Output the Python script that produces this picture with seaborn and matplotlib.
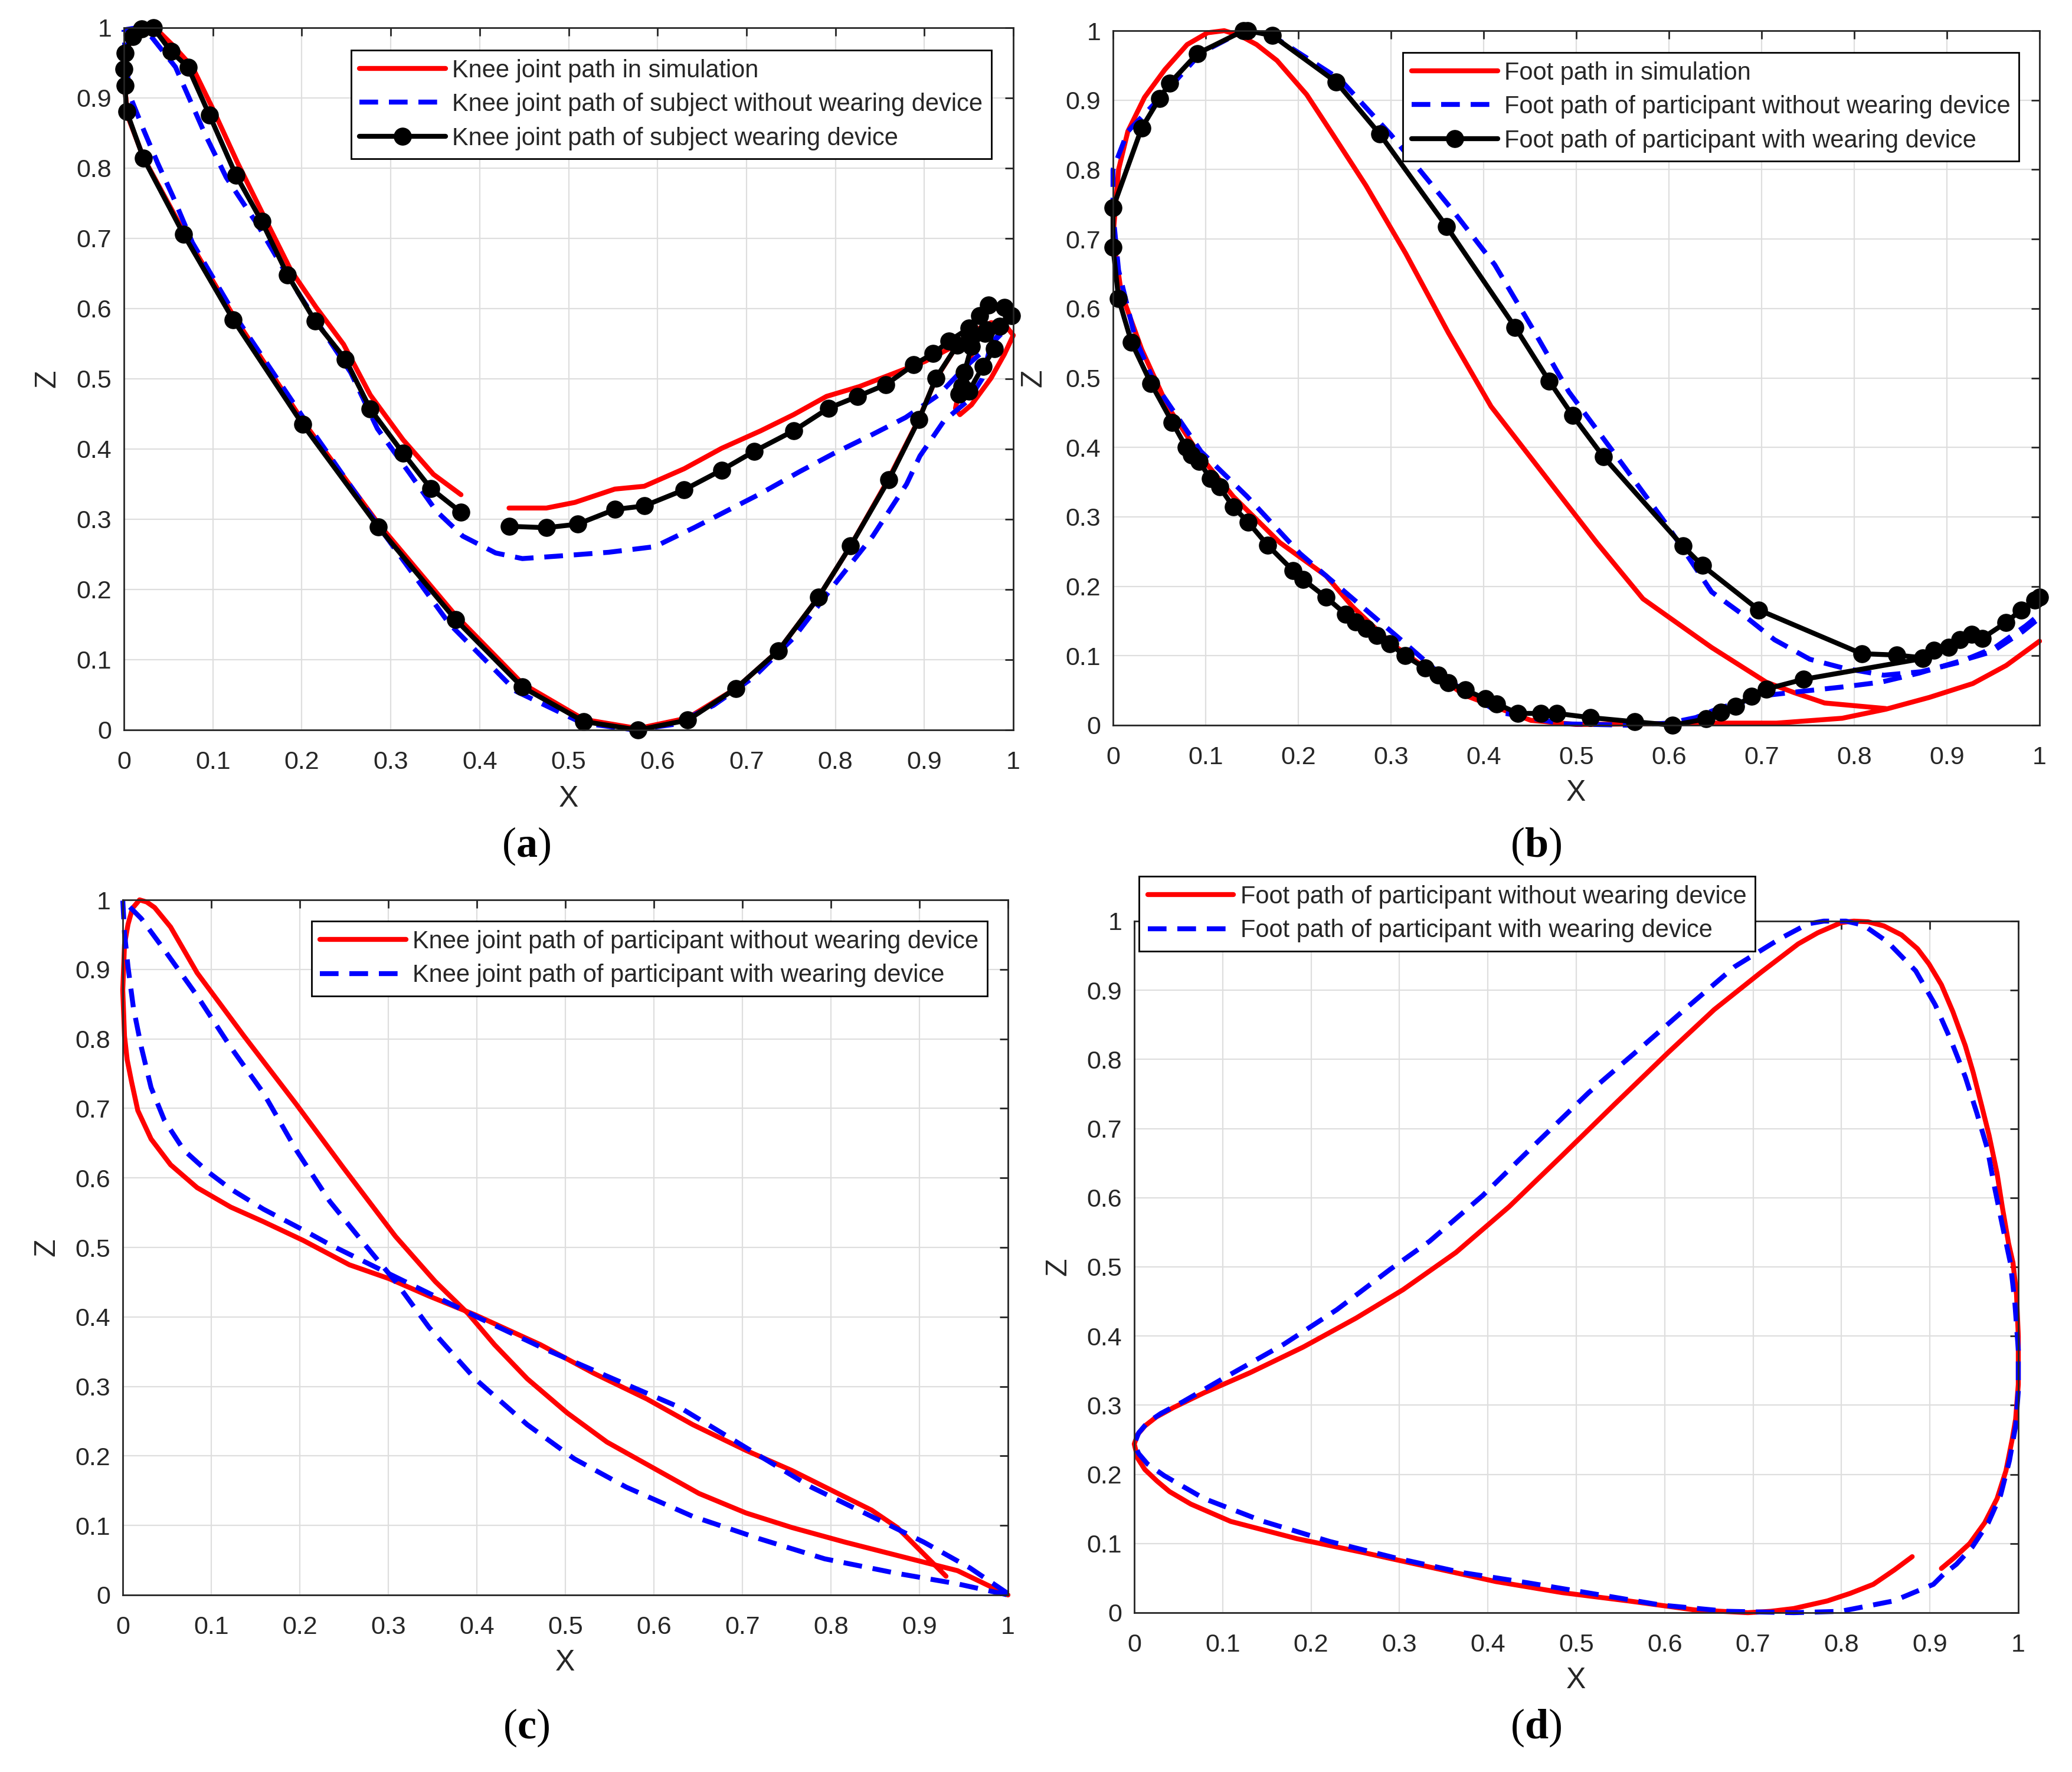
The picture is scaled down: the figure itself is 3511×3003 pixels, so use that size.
import numpy as np
import pandas as pd
import matplotlib
matplotlib.use("Agg")
import matplotlib.pyplot as plt
import seaborn as sns

# ---------------- data ----------------
tick_vals = [0, 0.1, 0.2, 0.3, 0.4, 0.5, 0.6, 0.7, 0.8, 0.9, 1]
tick_labels = ["0", "0.1", "0.2", "0.3", "0.4", "0.5", "0.6", "0.7", "0.8", "0.9", "1"]

# (a) knee joint
a_sim_x = [0.433,0.475,0.507,0.552,0.585,0.630,0.672,0.716,0.753,0.790,0.827,0.860,0.901,0.931,0.955,0.975,0.990,
           1.000,0.990,0.975,0.953,0.940,0.935,0.937,0.945,0.952,0.958,0.950,0.937,0.913,0.894,0.860,0.817,0.781,
           0.736,0.688,0.634,0.578,0.517,0.448,0.373,0.286,0.201,0.123,0.067,0.022,0.004,0.000,0.005,0.020,0.035,
           0.055,0.077,0.099,0.128,0.158,0.188,0.216,0.247,0.277,0.314,0.348,0.379]
a_sim_z = [0.316,0.316,0.324,0.343,0.347,0.372,0.401,0.426,0.449,0.475,0.489,0.505,0.525,0.545,0.568,0.580,0.578,
           0.562,0.535,0.501,0.463,0.449,0.458,0.470,0.500,0.530,0.555,0.560,0.548,0.500,0.443,0.358,0.262,0.189,
           0.113,0.059,0.017,0.002,0.015,0.066,0.163,0.294,0.440,0.590,0.710,0.815,0.875,0.930,0.975,0.995,1.000,
           0.975,0.944,0.887,0.807,0.730,0.654,0.602,0.549,0.477,0.413,0.364,0.335]

a_nodev_x = [0.000,0.015,0.031,0.058,0.091,0.115,0.151,0.188,0.225,0.255,0.285,0.322,0.351,0.381,0.418,0.448,0.493,
             0.545,0.597,0.641,0.678,0.715,0.760,0.797,0.842,0.879,0.916,0.946,0.975,0.994,0.985,0.975,0.965,0.950,
             0.922,0.895,0.880,0.842,0.797,0.753,0.708,0.663,0.619,0.574,0.515,0.441,0.366,0.292,0.210,0.129,0.077,
             0.055,0.038,0.022,0.008,0.002,0.000]
a_nodev_z = [0.997,1.000,0.987,0.944,0.849,0.787,0.718,0.638,0.566,0.509,0.429,0.364,0.312,0.276,0.252,0.244,0.248,
             0.253,0.261,0.288,0.312,0.336,0.368,0.393,0.421,0.445,0.477,0.517,0.549,0.574,0.565,0.550,0.500,0.470,
             0.440,0.390,0.350,0.276,0.204,0.131,0.075,0.035,0.008,0.000,0.010,0.055,0.151,0.280,0.429,0.582,0.694,
             0.760,0.807,0.855,0.899,0.950,0.997]

a_dev_x = [0.433,0.475,0.510,0.552,0.585,0.630,0.672,0.709,0.753,0.792,0.825,0.857,0.888,0.910,0.928,0.950,0.962,
           0.972,0.990,0.998,0.985,0.968,0.953,0.945,0.942,0.939,0.950,0.966,0.979,0.970,0.950,0.937,0.913,0.894,
           0.860,0.817,0.781,0.736,0.688,0.634,0.578,0.517,0.448,0.373,0.286,0.201,0.123,0.067,0.022,0.003,0.001,
           0.000,0.001,0.010,0.020,0.033,0.053,0.072,0.096,0.126,0.155,0.184,0.215,0.249,0.277,0.314,0.345,0.379]
a_dev_z = [0.290,0.288,0.293,0.314,0.319,0.342,0.370,0.397,0.426,0.458,0.475,0.492,0.520,0.536,0.554,0.572,0.590,
           0.605,0.602,0.590,0.575,0.565,0.546,0.509,0.489,0.478,0.482,0.518,0.543,0.570,0.565,0.548,0.501,0.442,
           0.356,0.262,0.189,0.113,0.059,0.014,0.000,0.012,0.061,0.157,0.289,0.435,0.584,0.706,0.814,0.881,0.918,
           0.941,0.964,0.987,0.998,1.000,0.966,0.944,0.876,0.790,0.724,0.648,0.582,0.528,0.457,0.394,0.344,0.310]

# (b) foot
b_sim_x = [1.000,0.964,0.928,0.881,0.834,0.787,0.716,0.646,0.580,0.500,0.451,0.380,0.344,0.301,0.259,0.230,0.180,
           0.130,0.095,0.059,0.031,0.009,0.000,0.006,0.016,0.034,0.056,0.080,0.102,0.120,0.137,0.155,0.177,0.209,
           0.237,0.273,0.316,0.362,0.408,0.465,0.522,0.572,0.646,0.705,0.735,0.768,0.834]
b_sim_z = [0.121,0.086,0.060,0.040,0.023,0.010,0.003,0.003,0.002,0.001,0.007,0.043,0.076,0.117,0.170,0.215,0.263,
           0.329,0.386,0.459,0.541,0.622,0.704,0.800,0.855,0.904,0.944,0.980,0.997,1.000,0.993,0.980,0.957,0.908,
           0.851,0.777,0.679,0.565,0.459,0.361,0.263,0.182,0.112,0.062,0.047,0.032,0.024]

b_nodev_x = [0.996,0.982,0.949,0.870,0.829,0.787,0.745,0.705,0.655,0.629,0.600,0.557,0.486,0.415,0.358,0.316,0.259,
             0.202,0.145,0.095,0.045,0.024,0.006,0.000,0.000,0.016,0.052,0.095,0.141,0.175,0.245,0.300,0.365,0.412,
             0.452,0.492,0.553,0.598,0.646,0.681,0.714,0.752,0.789,0.832,0.872,0.912,0.952,0.985,0.996]
b_nodev_z = [0.150,0.135,0.106,0.075,0.062,0.055,0.049,0.043,0.025,0.011,0.003,0.000,0.002,0.019,0.068,0.117,0.182,
             0.247,0.329,0.394,0.492,0.557,0.655,0.737,0.800,0.855,0.905,0.968,1.000,0.990,0.930,0.850,0.744,0.663,
             0.573,0.480,0.370,0.288,0.192,0.158,0.123,0.095,0.082,0.072,0.077,0.090,0.112,0.143,0.155]

b_dev_x = [0.874,0.745,0.705,0.689,0.672,0.656,0.640,0.604,0.563,0.515,0.479,0.462,0.437,0.414,0.402,0.380,0.362,
           0.351,0.337,0.315,0.299,0.285,0.273,0.262,0.251,0.230,0.205,0.194,0.167,0.146,0.130,0.115,0.105,0.093,
           0.085,0.079,0.064,0.041,0.020,0.006,0.000,0.000,0.031,0.050,0.061,0.091,0.141,0.145,0.172,0.241,0.288,
           0.360,0.434,0.471,0.496,0.529,0.615,0.636,0.697,0.808,0.846,0.874,0.886,0.902,0.914,0.927,0.938,0.964,
           0.980,0.995,1.000]
b_dev_z = [0.096,0.066,0.052,0.042,0.027,0.019,0.009,0.000,0.005,0.011,0.017,0.017,0.017,0.031,0.038,0.051,0.061,
           0.072,0.082,0.100,0.117,0.129,0.139,0.149,0.160,0.184,0.210,0.223,0.259,0.292,0.314,0.343,0.355,0.380,
           0.389,0.400,0.436,0.492,0.551,0.614,0.688,0.745,0.860,0.902,0.924,0.967,1.000,1.000,0.993,0.926,0.851,
           0.718,0.573,0.495,0.446,0.387,0.258,0.230,0.166,0.103,0.101,0.097,0.108,0.112,0.123,0.131,0.125,0.148,
           0.166,0.180,0.184]

# (c) knee joint
c_nodev_x = [0.930,0.875,0.846,0.808,0.756,0.704,0.644,0.592,0.532,0.472,0.398,0.346,0.301,0.256,0.204,0.159,0.122,
             0.084,0.054,0.032,0.017,0.010,0.005,0.002,0.000,0.002,0.006,0.011,0.019,0.027,0.036,0.054,0.084,0.137,
             0.196,0.249,0.308,0.353,0.390,0.420,0.457,0.502,0.547,0.599,0.651,0.704,0.756,0.816,0.890,0.943,1.000]
c_nodev_z = [0.027,0.097,0.122,0.146,0.179,0.208,0.245,0.282,0.319,0.360,0.403,0.430,0.455,0.475,0.510,0.537,0.558,
             0.586,0.619,0.656,0.697,0.738,0.770,0.804,0.870,0.936,0.965,0.988,1.000,0.997,0.989,0.961,0.895,0.804,
             0.706,0.615,0.516,0.451,0.405,0.360,0.311,0.262,0.220,0.183,0.146,0.118,0.097,0.076,0.052,0.035,0.000]

c_dev_x = [1.000,0.957,0.905,0.846,0.778,0.704,0.629,0.554,0.480,0.405,0.346,0.293,0.234,0.204,0.159,0.122,0.096,
           0.069,0.047,0.032,0.021,0.012,0.006,0.002,0.000,0.021,0.047,0.084,0.122,0.159,0.196,0.234,0.271,0.308,
           0.346,0.398,0.457,0.510,0.569,0.644,0.719,0.793,0.875,0.943,1.000]
c_dev_z = [0.002,0.039,0.076,0.113,0.155,0.212,0.270,0.311,0.352,0.397,0.434,0.467,0.504,0.525,0.555,0.584,0.609,
           0.640,0.683,0.730,0.788,0.845,0.903,0.952,1.000,0.973,0.928,0.862,0.788,0.722,0.640,0.566,0.508,0.451,
           0.385,0.311,0.245,0.196,0.155,0.113,0.081,0.052,0.031,0.016,0.000]

# (d) foot
d_nodev_x = [0.880,0.860,0.836,0.810,0.784,0.746,0.720,0.694,0.634,0.559,0.484,0.409,0.334,0.259,0.184,0.109,0.064,
             0.040,0.026,0.012,0.004,0.000,0.004,0.012,0.025,0.045,0.079,0.131,0.191,0.251,0.304,0.364,0.424,0.484,
             0.544,0.604,0.656,0.709,0.751,0.773,0.800,0.814,0.830,0.848,0.868,0.886,0.899,0.913,0.926,0.940,0.949,
             0.958,0.967,0.976,0.982,0.989,0.994,0.998,1.000,1.000,0.997,0.993,0.986,0.976,0.962,0.945,0.928,0.913]
d_nodev_z = [0.081,0.062,0.041,0.028,0.017,0.006,0.002,0.000,0.004,0.017,0.029,0.045,0.066,0.087,0.107,0.132,0.157,
             0.175,0.190,0.207,0.223,0.244,0.258,0.270,0.283,0.297,0.318,0.347,0.384,0.426,0.467,0.521,0.587,0.661,
             0.736,0.810,0.872,0.926,0.967,0.983,0.998,1.000,0.999,0.993,0.980,0.960,0.938,0.908,0.869,0.820,0.781,
             0.736,0.690,0.635,0.586,0.534,0.506,0.460,0.400,0.330,0.280,0.250,0.205,0.165,0.130,0.100,0.080,0.064]

d_dev_x = [0.915,0.904,0.859,0.799,0.746,0.671,0.596,0.521,0.446,0.371,0.296,0.221,0.146,0.079,0.034,0.015,0.005,
           0.000,0.005,0.015,0.030,0.055,0.101,0.169,0.229,0.289,0.334,0.394,0.454,0.514,0.574,0.626,0.679,0.731,
           0.762,0.780,0.805,0.825,0.852,0.884,0.906,0.924,0.940,0.953,0.965,0.973,0.982,0.991,0.996,1.000,1.000,
           0.997,0.990,0.980,0.966,0.948,0.930,0.915]
d_dev_z = [0.055,0.041,0.017,0.002,0.000,0.002,0.011,0.027,0.043,0.058,0.079,0.103,0.132,0.165,0.198,0.215,0.230,
           0.244,0.260,0.275,0.288,0.305,0.339,0.388,0.438,0.496,0.537,0.603,0.678,0.752,0.818,0.876,0.934,0.975,
           0.996,1.000,1.000,0.994,0.970,0.928,0.879,0.827,0.775,0.723,0.671,0.616,0.560,0.506,0.450,0.380,0.320,
           0.270,0.220,0.170,0.130,0.095,0.070,0.055]

labels_a = ["Knee joint path in simulation",
            "Knee joint path of subject without wearing device",
            "Knee joint path of subject wearing device"]
labels_b = ["Foot path in simulation",
            "Foot path of participant without wearing device",
            "Foot path of participant with wearing device"]
labels_c = ["Knee joint path of participant without wearing device",
            "Knee joint path of participant with wearing device"]
labels_d = ["Foot path of participant without wearing device",
            "Foot path of participant with wearing device"]
panel_tags = ["a", "b", "c", "d"]

# ---------------- style ----------------
sns.set_style("white")
plt.rcParams['font.family'] = ['Liberation Sans', 'DejaVu Sans']
plt.rcParams['mathtext.fontset'] = 'custom'
plt.rcParams['mathtext.rm'] = 'Liberation Serif'
plt.rcParams['mathtext.bf'] = 'Liberation Serif:bold'

TXT = '#262626'
RED = '#ff0000'
BLUE = '#0000ff'
LW = 6
DASH = (0, (3.8, 2.2))

W, H = 3511, 3003
fig = plt.figure(figsize=(W / 100, H / 100), dpi=100)


def px_axes(l, t, r, b):
    return fig.add_axes([l / W, 1 - b / H, (r - l) / W, (b - t) / H])


axA = px_axes(210, 47, 1717, 1237)
axB = px_axes(1886, 52, 3456, 1229)
axC = px_axes(208, 1525, 1708, 2703)
axD = px_axes(1922, 1561, 3420, 2733)


def setup(ax):
    ax.set_xlim(0, 1)
    ax.set_ylim(0, 1)
    ax.set_xticks(tick_vals)
    ax.set_xticklabels(tick_labels)
    ax.set_yticks(tick_vals)
    ax.set_yticklabels(tick_labels)
    ax.grid(True, color='#dedede', lw=1.6)
    ax.set_axisbelow(True)
    ax.tick_params(direction='in', top=True, right=True, length=10, width=2,
                   colors=TXT, labelsize=31)
    ax.tick_params(axis='x', pad=25)
    ax.tick_params(axis='y', pad=15)
    for s in ax.spines.values():
        s.set_linewidth(2)
        s.set_color(TXT)
    ax.set_xlabel('X', fontsize=36, color=TXT)
    ax.xaxis.set_label_coords(0.5, -0.098)
    ax.xaxis.label.set_va('center')
    ax.set_ylabel('Z', fontsize=36, color=TXT)
    ax.yaxis.set_label_coords(-0.086, 0.5)
    ax.yaxis.label.set_va('center')


def draw(ax, x, z, **kw):
    sns.lineplot(x=x, y=z, sort=False, estimator=None, ax=ax, clip_on=False, **kw)
    return ax.lines[-1]


def add_legend(ax, handles, labels, loc, anchor):
    leg = ax.legend(handles, labels, loc=loc, bbox_to_anchor=(anchor[0] / W, 1 - anchor[1] / H),
                    bbox_transform=fig.transFigure, borderaxespad=0, fontsize=30,
                    frameon=True, fancybox=False, framealpha=1, edgecolor='black',
                    handlelength=3.5, handletextpad=0.27, borderpad=0.35, labelspacing=0.42)
    leg.get_frame().set_linewidth(2)
    for t in leg.get_texts():
        t.set_color(TXT)
    leg.set_zorder(10)


marker_kw = dict(marker='o', markersize=21, markerfacecolor='black',
                 markeredgecolor='black', markeredgewidth=1)

# (a)
setup(axA)
h1 = draw(axA, a_sim_x, a_sim_z, color=RED, lw=LW)
h2 = draw(axA, a_nodev_x, a_nodev_z, color=BLUE, lw=LW, linestyle=DASH)
h3 = draw(axA, a_dev_x, a_dev_z, color='black', lw=LW, **marker_kw)
add_legend(axA, [h1, h2, h3], labels_a, 'upper right', (1680, 85))

# (b)
setup(axB)
h1 = draw(axB, b_sim_x, b_sim_z, color=RED, lw=LW)
h2 = draw(axB, b_nodev_x, b_nodev_z, color=BLUE, lw=LW, linestyle=DASH)
h3 = draw(axB, b_dev_x, b_dev_z, color='black', lw=LW, **marker_kw)
add_legend(axB, [h1, h2, h3], labels_b, 'upper right', (3421, 89))

# (c)
setup(axC)
h1 = draw(axC, c_nodev_x, c_nodev_z, color=RED, lw=LW)
h2 = draw(axC, c_dev_x, c_dev_z, color=BLUE, lw=LW, linestyle=DASH)
add_legend(axC, [h1, h2], labels_c, 'upper right', (1673, 1561))

# (d)
setup(axD)
h1 = draw(axD, d_nodev_x, d_nodev_z, color=RED, lw=LW)
h2 = draw(axD, d_dev_x, d_dev_z, color=BLUE, lw=LW, linestyle=DASH)
add_legend(axD, [h1, h2], labels_d, 'upper left', (1930, 1485))

# panel tags
for tag, (cx, cy) in zip(panel_tags, [(892, 1434), (2603, 1434), (892, 2928), (2603, 2928)]):
    fig.text(cx / W, 1 - cy / H, r'($\mathbf{%s}$)' % tag, fontsize=52,
             family='Liberation Serif', ha='center', va='center', color='black')

fig.savefig('out.png', dpi=100)
